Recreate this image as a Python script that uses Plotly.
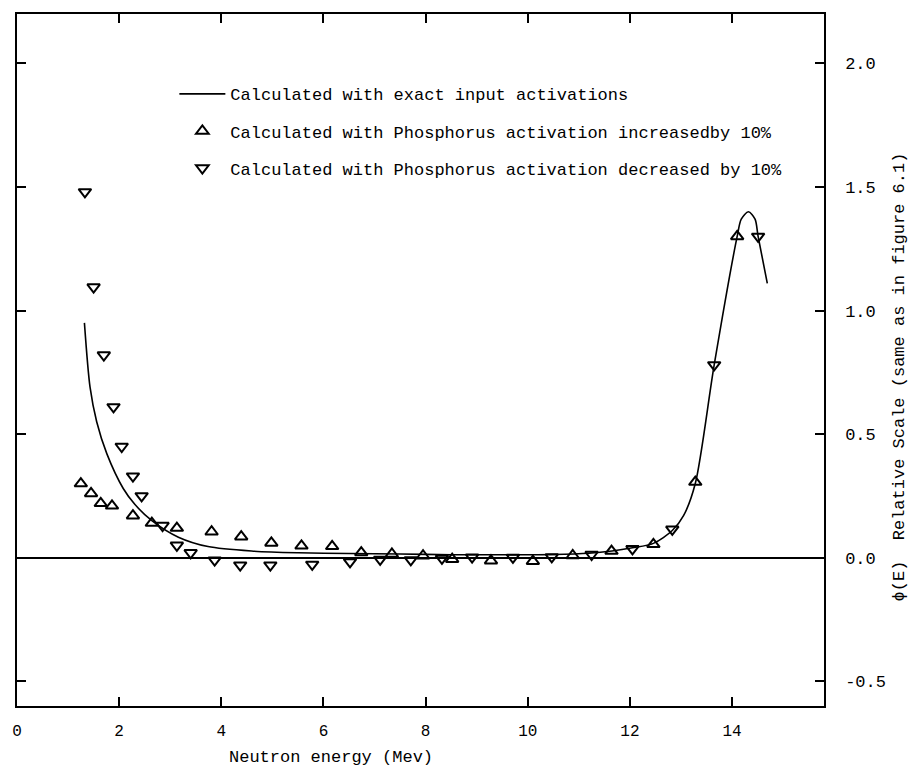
import plotly.graph_objects as go

# ---- data ----
curve_x = [1.32, 1.43, 1.56, 1.76, 2.08, 2.31, 2.64, 3.16, 3.74, 4.59, 5.5, 6.5, 7.5, 8.5,
           9.5, 10.5, 11.2, 11.65, 12.05, 12.46, 12.83, 13.05, 13.28, 13.65, 14.1, 14.18,
           14.32, 14.45, 14.51, 14.69]
curve_y = [0.95, 0.69, 0.55, 0.42, 0.28, 0.215, 0.15, 0.083, 0.045, 0.027, 0.02, 0.017, 0.015,
           0.012, 0.012, 0.013, 0.018, 0.027, 0.04, 0.058, 0.11, 0.17, 0.30, 0.78, 1.30, 1.37,
           1.40, 1.37, 1.30, 1.11]

up_x = [1.25, 1.45, 1.64, 1.86, 2.27, 2.64, 3.13, 3.81, 4.39, 4.98, 5.57, 6.17, 6.74, 7.34,
        7.95, 8.52, 9.28, 10.1, 10.88, 11.64, 12.46, 13.28, 14.10]
up_y = [0.30, 0.26, 0.22, 0.21, 0.17, 0.14, 0.12, 0.105, 0.085, 0.06, 0.048, 0.046, 0.021,
        0.015, 0.008, -0.006, -0.012, -0.014, 0.009, 0.027, 0.054, 0.306, 1.30]

dn_x = [1.33, 1.50, 1.70, 1.89, 2.05, 2.27, 2.44, 2.85, 3.13, 3.40, 3.87, 4.37, 4.96, 5.78,
        6.52, 7.11, 7.71, 8.32, 8.91, 9.71, 10.47, 11.25, 12.05, 12.83, 13.65, 14.51]
dn_y = [1.48, 1.095, 0.82, 0.61, 0.45, 0.33, 0.25, 0.13, 0.05, 0.02, -0.01, -0.03, -0.03,
        -0.027, -0.017, -0.007, -0.009, -0.003, 0.002, 0.001, 0.003, 0.013, 0.036, 0.115,
        0.78, 1.30]

x_ticks = [0, 2, 4, 6, 8, 10, 12, 14]
y_ticks = [-0.5, 0.0, 0.5, 1.0, 1.5, 2.0]
y_tick_text = [f"{v:.1f}" for v in y_ticks]

name_line = "Calculated with exact input activations"
name_up = "Calculated with Phosphorus activation increasedby 10%"
name_dn = "Calculated with Phosphorus activation decreased by 10%"
x_title = "Neutron energy (Mev)"
y_title = "\u03d5(E)  Relative Scale (same as in figure 6.1)"

FONT = "Liberation Mono"

fig = go.Figure()
fig.add_trace(go.Scatter(x=curve_x, y=curve_y, mode="lines", name=name_line,
                         line=dict(color="black", width=1.6, shape="spline", smoothing=0.8),
                         legendgroup="a"))
fig.add_trace(go.Scatter(x=up_x, y=up_y, mode="markers", name=name_up,
                         marker=dict(symbol="triangle-up-open", size=11, color="black",
                                     line=dict(width=2, color="black")),
                         legendgroup="b"))
fig.add_trace(go.Scatter(x=dn_x, y=dn_y, mode="markers", name=name_dn,
                         marker=dict(symbol="triangle-down-open", size=11, color="black",
                                     line=dict(width=2, color="black")),
                         legendgroup="c"))

fig.update_layout(
    width=910, height=771,
    margin=dict(l=14, r=86, t=13, b=65),
    paper_bgcolor="white", plot_bgcolor="white",
    font=dict(family=FONT, size=17, color="black"),
    showlegend=True,
    legend=dict(x=0.195, y=0.91, xanchor="left", yanchor="top",
                bgcolor="rgba(0,0,0,0)", borderwidth=0, tracegroupgap=12,
                font=dict(family=FONT, size=17, color="black"), itemwidth=46),
    xaxis=dict(range=[0, 15.8], tickvals=x_ticks, ticktext=[str(v) for v in x_ticks],
               ticks="inside", ticklen=9, tickwidth=1.5, tickcolor="black",
               showline=True, linecolor="black", linewidth=1.5, mirror="allticks",
               showgrid=False, zeroline=False, ticklabelstandoff=9,
               tickfont=dict(family=FONT, size=16, color="black")),
    yaxis=dict(range=[-0.60, 2.20], side="right", tickvals=y_ticks, ticktext=y_tick_text,
               ticks="inside", ticklen=9, tickwidth=1.5, tickcolor="black",
               showline=True, linecolor="black", linewidth=1.5, mirror="allticks",
               showgrid=False, zeroline=True, zerolinecolor="black", zerolinewidth=1.5,
               ticklabelstandoff=16,
               tickfont=dict(family=FONT, size=17, color="black")),
    annotations=[
        dict(text=x_title, xref="paper", yref="paper", x=0.26, y=-0.074,
             xanchor="left", yanchor="middle", showarrow=False,
             font=dict(family=FONT, size=17, color="black")),
        dict(text=y_title, xref="paper", yref="paper", x=1.094, y=0.476,
             xanchor="center", yanchor="middle", textangle=-90, showarrow=False,
             font=dict(family=FONT, size=17, color="black")),
    ],
)

fig.write_html("out.html")
